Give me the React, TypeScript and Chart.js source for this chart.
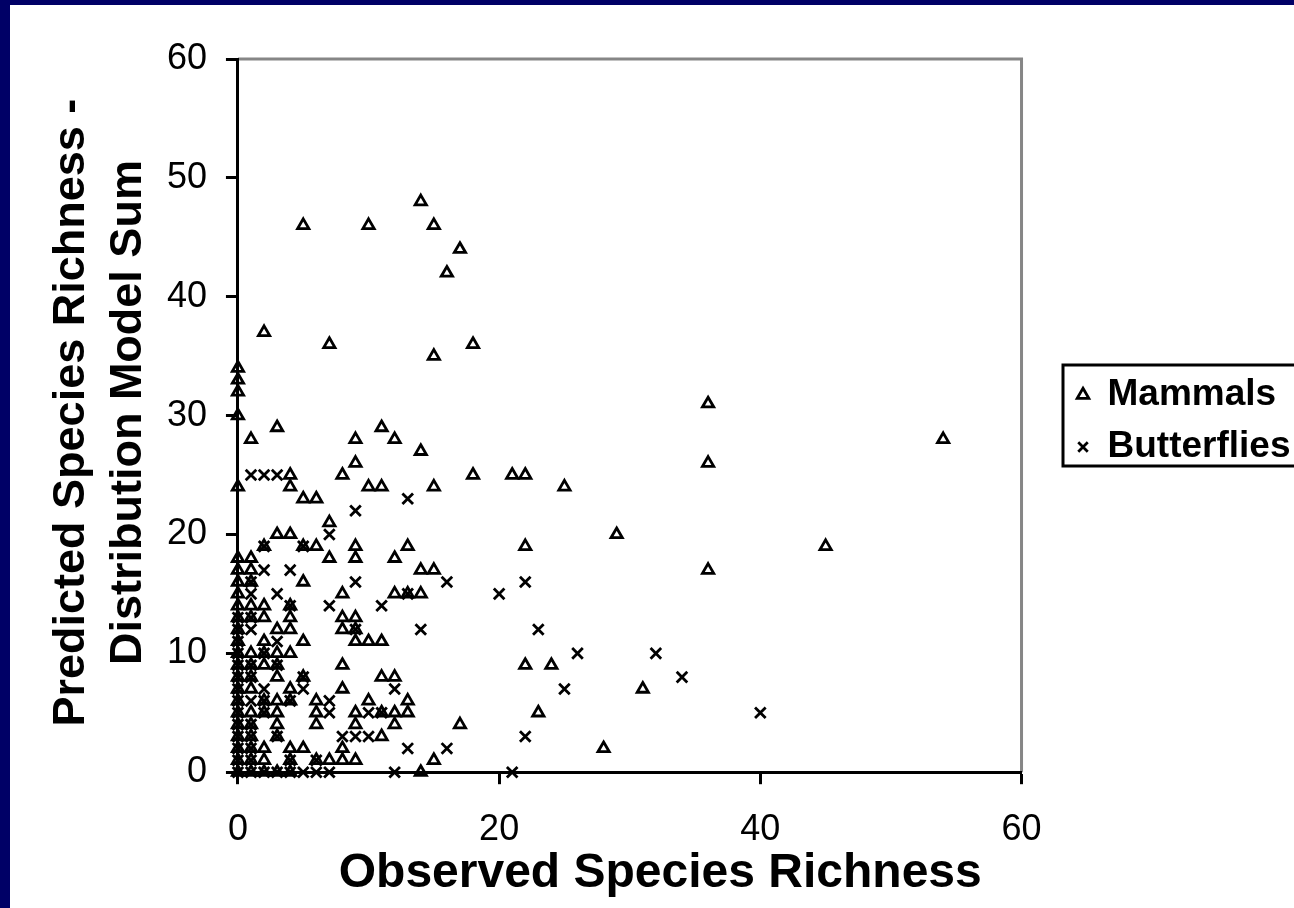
import React, { useEffect, useRef } from "react";
import { Chart, registerables } from "chart.js";

Chart.register(...registerables);

const mammals: [number, number][] = [
  [14,48],[5,46],[10,46],[15,46],[17,44],[16,42],[2,37],[7,36],[18,36],[15,35],[0,34],[0,33],[0,32],[36,31],[0,30],
  [3,29],[11,29],[1,28],[9,28],[12,28],[54,28],[14,27],[9,26],[36,26],
  [4,25],[8,25],[18,25],[21,25],[22,25],[0,24],[4,24],[10,24],[11,24],[15,24],[25,24],[5,23],[6,23],[7,21],
  [3,20],[4,20],[29,20],[2,19],[5,19],[6,19],[9,19],[13,19],[22,19],[45,19],
  [0,18],[1,18],[7,18],[9,18],[12,18],[0,17],[1,17],[14,17],[15,17],[36,17],[0,16],[1,16],[5,16],
  [0,15],[8,15],[12,15],[13,15],[14,15],[0,14],[1,14],[2,14],[4,14],[0,13],[1,13],[2,13],[4,13],[8,13],[9,13],
  [0,12],[3,12],[4,12],[8,12],[9,12],[0,11],[2,11],[5,11],[9,11],[10,11],[11,11],
  [0,10],[1,10],[2,10],[3,10],[4,10],[0,9],[1,9],[2,9],[3,9],[8,9],[22,9],[24,9],
  [0,8],[1,8],[3,8],[5,8],[11,8],[12,8],[0,7],[1,7],[4,7],[8,7],[31,7],
  [0,6],[2,6],[3,6],[4,6],[6,6],[10,6],[13,6],[0,5],[1,5],[2,5],[3,5],[6,5],[9,5],[11,5],[12,5],[13,5],[23,5],
  [0,4],[1,4],[3,4],[6,4],[9,4],[12,4],[17,4],[0,3],[1,3],[3,3],[11,3],
  [0,2],[1,2],[2,2],[4,2],[5,2],[8,2],[28,2],[0,1],[1,1],[2,1],[4,1],[6,1],[7,1],[8,1],[9,1],[15,1],
  [0,0],[1,0],[2,0],[3,0],[4,0],[14,0],
];

const butterflies: [number, number][] = [
  [1,25],[2,25],[3,25],[13,23],[9,22],[7,20],[2,19],[5,19],[2,17],[4,17],
  [1,16],[9,16],[16,16],[22,16],[1,15],[3,15],[13,15],[20,15],[4,14],[7,14],[11,14],
  [0,13],[1,13],[0,12],[1,12],[9,12],[14,12],[23,12],[0,11],[3,11],[0,10],[2,10],[26,10],[32,10],
  [0,9],[1,9],[3,9],[0,8],[1,8],[5,8],[34,8],[0,7],[2,7],[5,7],[12,7],[25,7],
  [0,6],[1,6],[2,6],[4,6],[7,6],[0,5],[2,5],[7,5],[10,5],[11,5],[40,5],[0,4],[1,4],
  [0,3],[1,3],[3,3],[8,3],[9,3],[10,3],[22,3],[0,2],[1,2],[13,2],[16,2],[0,1],[1,1],[4,1],[6,1],
  [0,0],[1,0],[2,0],[3,0],[4,0],[5,0],[6,0],[7,0],[12,0],[21,0],
];

const seriesNames = ["Mammals", "Butterflies"];
const xTitle = "Observed Species Richness";
const yTitle = ["Predicted Species Richness -", "Distribution Model Sum"];
const FONT = "'Liberation Sans', Arial, sans-serif";

function shiftTitle(scale: any, dx: number, dy: number) {
  if (scale.__shifted) return;
  scale.__shifted = true;
  const orig = scale.drawTitle;
  scale.drawTitle = function () {
    this.ctx.save();
    this.ctx.translate(dx, dy);
    orig.call(this);
    this.ctx.restore();
  };
}

const framePlugin = {
  id: "frame",
  beforeDraw(chart: any) {
    const lg = chart.legend;
    const h = lg.bottom - lg.top;
    lg.left = 1052;
    lg.right = 1500;
    lg.top = 416 - h / 2;
    lg.bottom = 416 + h / 2;
    shiftTitle(chart.scales.x, 30.5, 0);
    shiftTitle(chart.scales.y, 1, -3);
    const { left, top, right, bottom } = chart.chartArea;
    const ctx = chart.ctx;
    ctx.save();
    ctx.strokeStyle = "#868686";
    ctx.lineWidth = 3;
    ctx.beginPath();
    ctx.moveTo(left, top);
    ctx.lineTo(right, top);
    ctx.lineTo(right, bottom);
    ctx.stroke();
    ctx.restore();
  },
  afterDraw(chart: any) {
    const ctx = chart.ctx;
    ctx.save();
    ctx.strokeStyle = "#000";
    ctx.lineWidth = 3;
    ctx.strokeRect(1053, 360, 260, 101);
    ctx.restore();
  },
};

export default function App() {
  const ref = useRef<HTMLCanvasElement>(null);
  useEffect(() => {
    const chart = new Chart(ref.current!, {
      type: "scatter",
      data: {
        datasets: [
          {
            label: seriesNames[0],
            data: mammals.map(([x, y]) => ({ x, y })),
            pointStyle: "triangle",
            pointRadius: 6.5,
            pointBorderColor: "#000",
            pointBackgroundColor: "rgba(0,0,0,0)",
            pointBorderWidth: 2.8,
            borderColor: "#000",
            backgroundColor: "rgba(0,0,0,0)",
            borderWidth: 2.4,
            clip: false,
          },
          {
            label: seriesNames[1],
            data: butterflies.map(([x, y]) => ({ x, y })),
            pointStyle: "crossRot",
            pointRadius: 7.5,
            pointBorderColor: "#000",
            pointBackgroundColor: "rgba(0,0,0,0)",
            pointBorderWidth: 2.8,
            borderColor: "#000",
            backgroundColor: "rgba(0,0,0,0)",
            borderWidth: 2.4,
            clip: false,
          },
        ],
      },
      options: {
        animation: false,
        responsive: false,
        layout: { padding: { left: 32.5, top: 54, bottom: 5, right: 34 } },
        plugins: {
          tooltip: { enabled: false },
          legend: {
            position: "right",
            labels: {
              usePointStyle: true,
              boxWidth: 12,
              boxHeight: 9.5,
              padding: 15,
              color: "#000",
              font: { family: FONT, size: 37, weight: "bold" },
            },
          },
        },
        scales: {
          x: {
            type: "linear",
            min: 0,
            max: 60,
            ticks: { stepSize: 20, color: "#000", padding: 24, maxRotation: 0, font: { family: FONT, size: 36 } },
            grid: { drawOnChartArea: false, drawTicks: true, tickLength: 12, tickWidth: 3, tickColor: "#000" },
            border: { display: true, color: "#000", width: 3 },
            title: { display: true, text: xTitle, color: "#000", padding: { top: -30, bottom: 0 }, font: { family: FONT, size: 48, weight: "bold" } },
          },
          y: {
            type: "linear",
            min: 0,
            max: 60,
            ticks: { stepSize: 10, color: "#000", padding: 19, font: { family: FONT, size: 36 } },
            grid: { drawOnChartArea: false, drawTicks: true, tickLength: 12, tickWidth: 3, tickColor: "#000" },
            border: { display: true, color: "#000", width: 3 },
            title: { display: true, text: yTitle, color: "#000", padding: { top: 0, bottom: -8 }, font: { family: FONT, size: 45, weight: "bold", lineHeight: 1.26 } },
          },
        },
      },
      plugins: [framePlugin],
    } as any);
    return () => chart.destroy();
  }, []);
  return (
    <div style={{ position: "fixed", left: 0, top: 0, width: 1294, height: 908, background: "#000066", overflow: "hidden" }}>
      <canvas ref={ref} width={1284} height={903} style={{ position: "absolute", left: 10, top: 5, width: 1284, height: 903, background: "#fff" }} />
    </div>
  );
}
